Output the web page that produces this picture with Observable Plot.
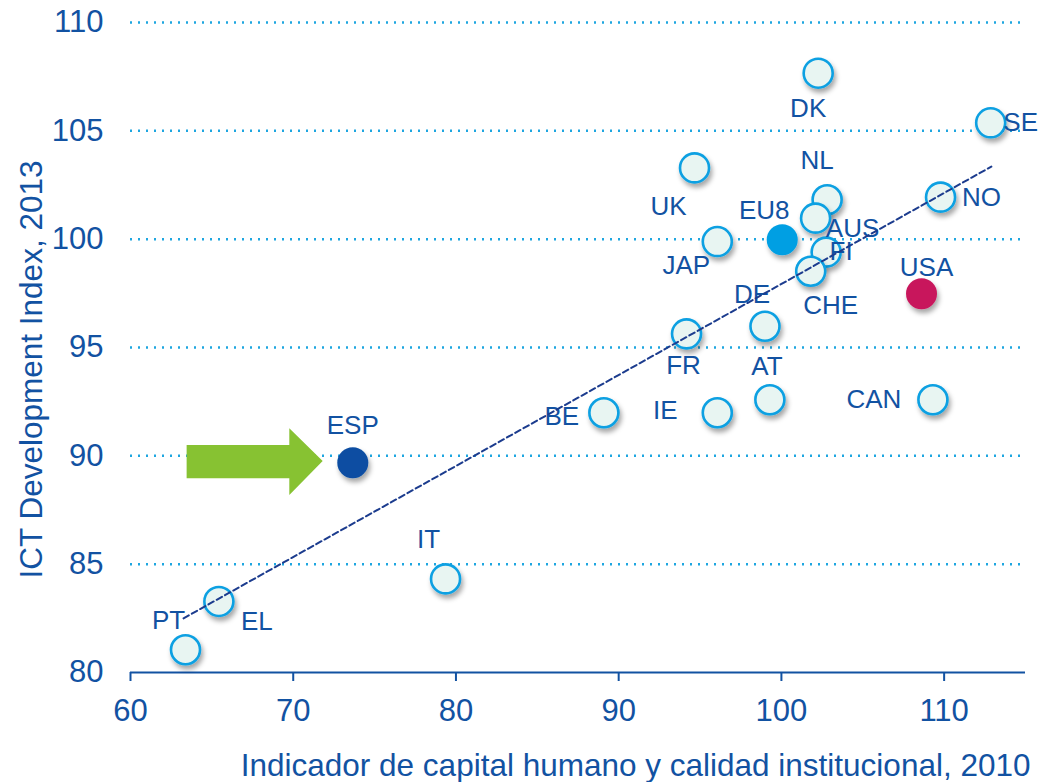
<!DOCTYPE html>
<html>
<head>
<meta charset="utf-8">
<script src="https://cdn.jsdelivr.net/npm/d3@7"></script>
<script src="https://cdn.jsdelivr.net/npm/@observablehq/plot@0.6"></script>
<style>
  html, body { margin: 0; padding: 0; background: #ffffff; }
  #chart { width: 1045px; height: 782px; }
</style>
</head>
<body>
<div id="chart"></div>
<script>
// ---- Data ----
const codes   = ["DK", "SE", "NO", "UK", "NL", "AUS", "JAP", "FI", "CHE", "DE", "FR", "AT", "CAN", "BE", "IE", "IT", "EL", "PT", "EU8", "ESP", "USA"];
const capitalHumano = [102.26, 112.86, 109.78, 94.66, 102.81, 102.1, 96.06, 102.75, 101.8, 98.99, 94.17, 99.29, 109.31, 89.09, 96.06, 79.36, 65.43, 63.38, 100.05, 73.66, 108.61];
const ictIndex      = [107.66, 105.37, 101.94, 103.29, 101.82, 100.97, 99.89, 99.4, 98.52, 95.98, 95.63, 92.59, 92.59, 91.99, 91.99, 84.32, 83.28, 81.05, 99.97, 89.68, 97.48];
const groups  = ["country","country","country","country","country","country","country","country","country","country","country","country","country","country","country","country","country","country","eu8","esp","usa"];

const xTicks = [60, 70, 80, 90, 100, 110];
const yTicks = [80, 85, 90, 95, 100, 105, 110];
const gridValues = [85, 90, 95, 100, 105, 110];

// trend line endpoints
const trendX = [63.26, 112.9];
const trendY = [82.5, 103.35];

// green arrow outline (data units), pointing at ESP
const arrowX  = [63.48, 69.79, 69.79, 71.84];
const arrowLo = [88.94, 88.94, 88.17, 89.74];
const arrowHi = [90.48, 90.48, 91.25, 89.74];

const xTitle = "Indicador de capital humano y calidad institucional, 2010";
const yTitle = "ICT Development Index, 2013";

// label placement (pixel offsets from each point)
const labelOffsets = {
  DK: [-10, 35], SE: [30, 0], NO: [41, 1], UK: [-26, 39], NL: [-10, -39],
  AUS: [37, 11], JAP: [-31, 24], FI: [15, 0], CHE: [20, 34], DE: [-13, -32],
  FR: [-3, 32], AT: [-3, -33], CAN: [-59, 0], BE: [-42, 4], IE: [-52, -2],
  IT: [-17, -39], EL: [38, 20], PT: [-17, -29], EU8: [-18, -29], ESP: [0, -37], USA: [5, -26]
};

// ---- Build tables ----
const points = codes.map((c, i) => ({code: c, x: capitalHumano[i], y: ictIndex[i], group: groups[i]}));
const trend = trendX.map((x, i) => ({x, y: trendY[i]}));
const arrow = arrowX.map((x, i) => ({x, lo: arrowLo[i], hi: arrowHi[i]}));

const TEXT = "#1252a2";
const FONT = "'Liberation Sans', Arial, Helvetica, sans-serif";

const labelMarks = points.map(d => Plot.text([d], {
  x: "x", y: "y", text: "code",
  dx: labelOffsets[d.code][0], dy: labelOffsets[d.code][1],
  fontSize: 26, fill: TEXT, textAnchor: "middle", lineAnchor: "middle"
}));

const chart = Plot.plot({
  width: 1045,
  height: 782,
  marginLeft: 130,
  marginRight: 20,
  marginTop: 22,
  marginBottom: 110,
  style: {fontFamily: FONT, color: TEXT, background: "#ffffff", overflow: "visible"},
  x: {domain: [60, 115]},
  y: {domain: [80, 110]},
  marks: [
    Plot.ruleY(gridValues, {stroke: "#1ea6e0", strokeWidth: 2.5, strokeDasharray: "2,6"}),
    Plot.ruleY([80], {stroke: TEXT, strokeWidth: 2}),
    Plot.axisX({ticks: xTicks, tickSize: 9, tickPadding: 17, fontSize: 31, label: null, stroke: TEXT, strokeWidth: 2, tickFormat: d => String(d)}),
    Plot.axisY({ticks: yTicks, tickSize: 0, tickPadding: 27, fontSize: 31, label: null, tickFormat: d => String(d)}),
    Plot.areaY(arrow, {x: "x", y1: "lo", y2: "hi", fill: "#87c232", curve: "linear"}),
    Plot.dot(points.filter(d => d.group === "country"), {x: "x", y: "y", r: 14.5, fill: "#e8f5f2", stroke: "#0aa0e2", strokeWidth: 2.6}),
    Plot.dot(points.filter(d => d.group === "eu8"), {x: "x", y: "y", r: 15.5, fill: "#009fe3"}),
    Plot.dot(points.filter(d => d.group === "esp"), {x: "x", y: "y", r: 15.5, fill: "#0b4ea2"}),
    Plot.dot(points.filter(d => d.group === "usa"), {x: "x", y: "y", r: 15.5, fill: "#c8175c"}),
    ...labelMarks,
    Plot.line(trend, {x: "x", y: "y", stroke: "#1c3c8e", strokeWidth: 2, strokeDasharray: "6,3.5"}),
    Plot.text([yTitle], {frameAnchor: "left", rotate: -90, dx: -99, dy: 22, fontSize: 31.5, fill: TEXT, textAnchor: "middle", lineAnchor: "middle"}),
    Plot.text([xTitle], {frameAnchor: "bottom-right", dx: 5, dy: 93, fontSize: 31.5, fill: TEXT, textAnchor: "end", lineAnchor: "middle"})
  ]
});

// drop shadow for the bubbles
const ns = "http://www.w3.org/2000/svg";
const defs = document.createElementNS(ns, "defs");
const filter = document.createElementNS(ns, "filter");
filter.setAttribute("id", "bubbleShadow");
filter.setAttribute("x", "-50%"); filter.setAttribute("y", "-50%");
filter.setAttribute("width", "200%"); filter.setAttribute("height", "200%");
const fe = document.createElementNS(ns, "feDropShadow");
fe.setAttribute("dx", "2"); fe.setAttribute("dy", "4");
fe.setAttribute("stdDeviation", "2.5");
fe.setAttribute("flood-color", "#000"); fe.setAttribute("flood-opacity", "0.35");
filter.appendChild(fe); defs.appendChild(filter);
chart.insertBefore(defs, chart.firstChild);
chart.querySelectorAll('g[aria-label="dot"] circle').forEach(c => c.setAttribute("filter", "url(#bubbleShadow)"));

document.getElementById("chart").appendChild(chart);
</script>
</body>
</html>
